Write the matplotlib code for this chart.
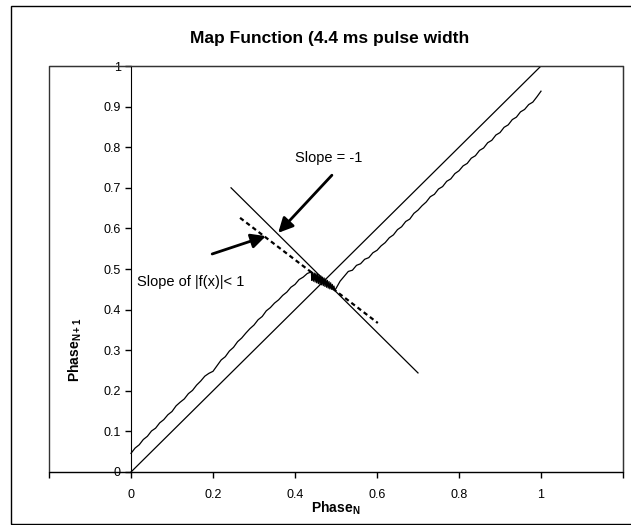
import matplotlib
matplotlib.use('Agg')
import matplotlib.pyplot as plt
from matplotlib.patches import Rectangle

plt.rcParams['font.family'] = ['Liberation Sans', 'DejaVu Sans']
plt.rcParams['mathtext.fontset'] = 'custom'
plt.rcParams['mathtext.rm'] = 'Liberation Sans'
plt.rcParams['mathtext.bf'] = 'Liberation Sans:bold'

# measured map: phase N -> phase N+1
phase_n = [0.00, 0.01, 0.02, 0.03, 0.04, 0.05, 0.06, 0.07, 0.08, 0.09,
           0.10, 0.11, 0.12, 0.13, 0.14, 0.15, 0.16, 0.17, 0.18, 0.19,
           0.20, 0.21, 0.22, 0.23, 0.24, 0.25, 0.26, 0.27, 0.28, 0.29,
           0.30, 0.31, 0.32, 0.33, 0.34, 0.35, 0.36, 0.37, 0.38, 0.39,
           0.40, 0.41, 0.42, 0.43, 0.44,
           0.441, 0.443, 0.445, 0.447, 0.449, 0.451, 0.453, 0.455, 0.457,
           0.459, 0.461, 0.463, 0.465, 0.467, 0.469, 0.471, 0.473, 0.475,
           0.477, 0.479, 0.481, 0.483, 0.485, 0.487, 0.489, 0.491, 0.493,
           0.495, 0.497, 0.50,
           0.51, 0.52, 0.53, 0.54, 0.55, 0.56, 0.57, 0.58, 0.59, 0.60,
           0.61, 0.62, 0.63, 0.64, 0.65, 0.66, 0.67, 0.68, 0.69, 0.70,
           0.71, 0.72, 0.73, 0.74, 0.75, 0.76, 0.77, 0.78, 0.79, 0.80,
           0.81, 0.82, 0.83, 0.84, 0.85, 0.86, 0.87, 0.88, 0.89, 0.90,
           0.91, 0.92, 0.93, 0.94, 0.95, 0.96, 0.97, 0.98, 0.99, 1.00]
phase_n1 = [0.046, 0.059, 0.067, 0.080, 0.088, 0.101, 0.108, 0.121, 0.129, 0.141,
            0.149, 0.163, 0.172, 0.180, 0.193, 0.201, 0.214, 0.224, 0.236, 0.243,
            0.248, 0.262, 0.276, 0.284, 0.298, 0.307, 0.321, 0.330, 0.342, 0.353,
            0.362, 0.375, 0.383, 0.397, 0.405, 0.416, 0.424, 0.435, 0.443, 0.455,
            0.462, 0.474, 0.480, 0.489, 0.493,
            0.472, 0.492, 0.470, 0.490, 0.468, 0.489, 0.466, 0.487, 0.464,
            0.485, 0.462, 0.483, 0.461, 0.480, 0.459, 0.478, 0.457, 0.475,
            0.455, 0.472, 0.453, 0.469, 0.451, 0.466, 0.450, 0.462, 0.449,
            0.458, 0.448, 0.452,
            0.470, 0.482, 0.494, 0.497, 0.509, 0.513, 0.524, 0.528, 0.540, 0.546,
            0.557, 0.565, 0.577, 0.584, 0.597, 0.604, 0.617, 0.623, 0.637, 0.645,
            0.656, 0.665, 0.678, 0.684, 0.697, 0.703, 0.716, 0.722, 0.735, 0.742,
            0.754, 0.760, 0.773, 0.779, 0.792, 0.798, 0.811, 0.817, 0.830, 0.836,
            0.849, 0.855, 0.868, 0.874, 0.887, 0.893, 0.905, 0.911, 0.924, 0.938]

# identity line y = x
ident_x = [0, 1]
ident_y = [0, 1]

# slope -1 line through the fixed point
neg_x = [0.244, 0.70]
neg_y = [0.70, 0.244]

# local slope of the map (dashed)
local_x = [0.266, 0.602]
local_y = [0.626, 0.367]

x_ticks = [-0.2, 0, 0.2, 0.4, 0.6, 0.8, 1, 1.2]
x_labels = ['', '0', '0.2', '0.4', '0.6', '0.8', '1', '']
y_ticks = [0, 0.1, 0.2, 0.3, 0.4, 0.5, 0.6, 0.7, 0.8, 0.9, 1]
y_labels = ['0', '0.1', '0.2', '0.3', '0.4', '0.5', '0.6', '0.7', '0.8', '0.9', '1']

W, H = 631, 525
fig = plt.figure(figsize=(W / 100, H / 100), dpi=100)

# outer chart border (right side is cut off in the original)
fig.patches.append(Rectangle((11 / W, 1 / H), 1.0, 518 / H, transform=fig.transFigure,
                             fill=False, ec='black', lw=1))

ax = fig.add_axes([49 / W, (H - 472) / H, (623 - 49) / W, (472 - 66) / H])

ax.plot(ident_x, ident_y, color='black', lw=0.9)
ax.plot(phase_n, phase_n1, color='black', lw=0.9)
ax.plot(neg_x, neg_y, color='black', lw=0.9)
ax.plot(local_x, local_y, color='black', lw=1.6, linestyle=(0, (2, 1.5)))

ax.set_xlim(-0.2, 1.2)
ax.set_ylim(0, 1)

# y axis crosses at x = 0
ax.spines['left'].set_position(('data', 0))
ax.spines['left'].set_color('black')
ax.spines['bottom'].set_color('black')
for s in ['top', 'right']:
    ax.spines[s].set_color('#333333')
# plot area frame on the left
ax.add_patch(Rectangle((0, 0), 1, 1, transform=ax.transAxes, fill=False,
                       ec='#333333', lw=1, clip_on=False))

ax.set_xticks(x_ticks)
ax.set_xticklabels(x_labels)
ax.set_yticks(y_ticks)
ax.set_yticklabels(y_labels)
ax.tick_params(direction='out', length=4, width=1, labelsize=9, colors='black')
ax.tick_params(axis='x', pad=8)

# annotations
ax.text(0.483, 0.773, 'Slope = -1', fontsize=10.5, ha='center', va='center')
ax.text(0.015, 0.468, 'Slope of |f(x)|< 1', fontsize=10.5, ha='left', va='center')
ax.annotate('', xy=(0.359, 0.589), xytext=(0.49, 0.731),
            arrowprops=dict(arrowstyle='-|>', color='black', lw=2, mutation_scale=22,
                            shrinkA=0, shrinkB=0))
ax.annotate('', xy=(0.329, 0.581), xytext=(0.198, 0.537),
            arrowprops=dict(arrowstyle='-|>', color='black', lw=2, mutation_scale=22,
                            shrinkA=0, shrinkB=0))

fig.text(330 / W, 1 - 38 / H, 'Map Function (4.4 ms pulse width', fontsize=12.5,
         fontweight='bold', ha='center', va='center')
fig.text(336 / W, 1 - 508 / H, r'Phase$_{\mathbf{N}}$', fontsize=10,
         fontweight='bold', ha='center', va='center')
fig.text(75 / W, 1 - 350 / H, r'Phase$_{\mathbf{N+1}}$', fontsize=10,
         fontweight='bold', ha='center', va='center', rotation=90)

fig.savefig('out.png', dpi=100)
